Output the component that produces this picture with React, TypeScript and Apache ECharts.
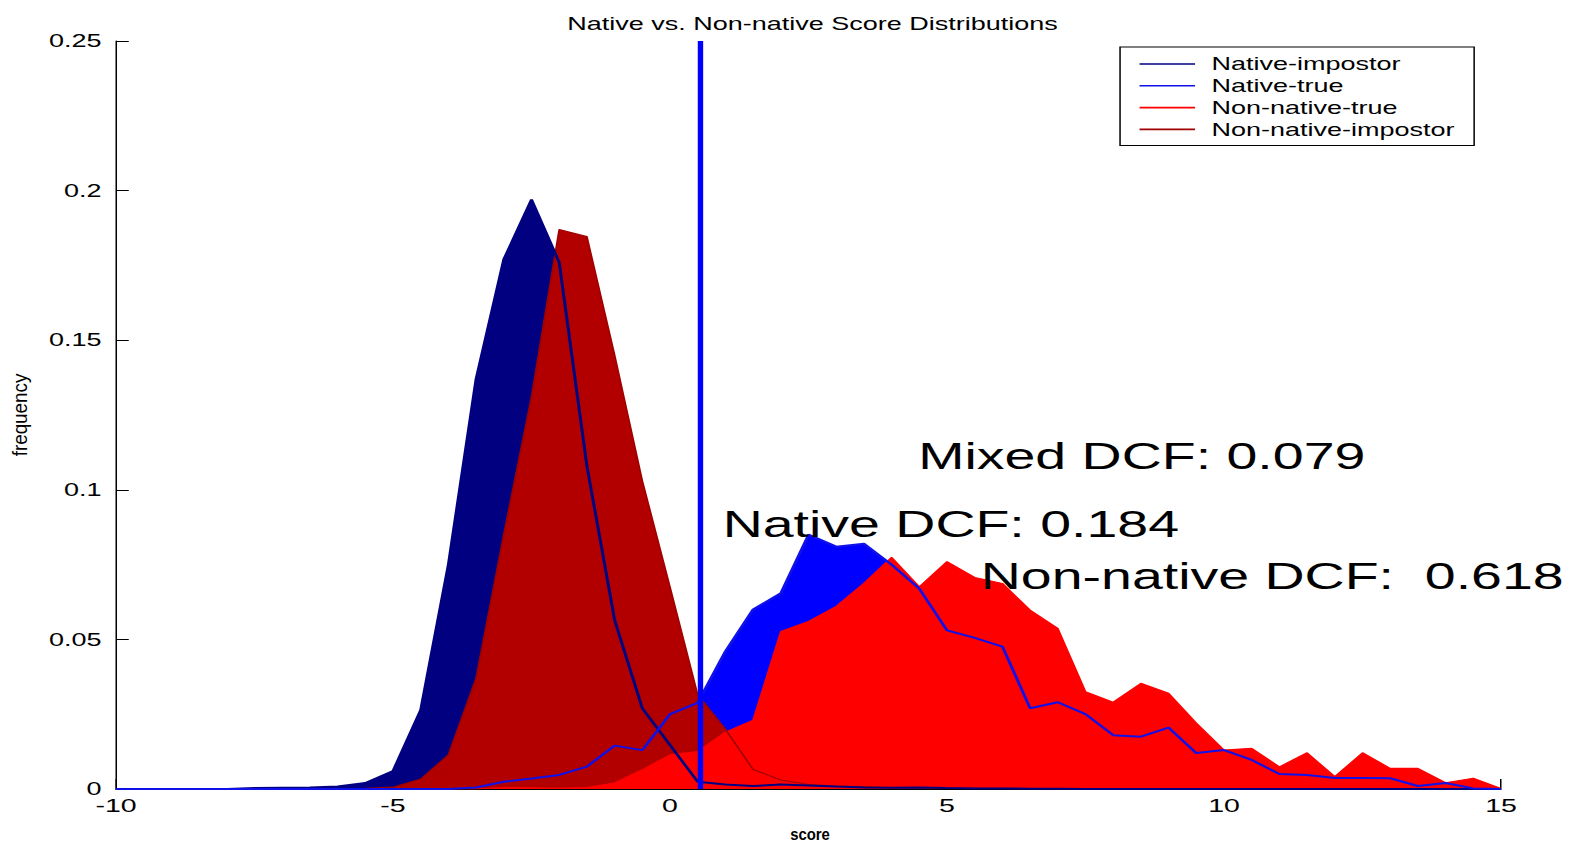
import React, { useEffect, useRef } from "react";
import * as echarts from "echarts";

// Page size and the horizontal stretch applied to the whole figure
const PAGE_W = 1578;
const PAGE_H = 843;
const STRETCH_X = 1.5;
const CHART_W = PAGE_W / STRETCH_X;

const FONT = '"Liberation Sans", Arial, Helvetica, sans-serif';

// Score histogram bins (bin centres)
const scoreBins = [
  -10, -9.5, -9, -8.5, -8, -7.5, -7, -6.5, -6, -5.5,
  -5, -4.5, -4, -3.5, -3, -2.5, -2, -1.5, -1, -0.5,
  0, 0.5, 1, 1.5, 2, 2.5, 3, 3.5, 4, 4.5,
  5, 5.5, 6, 6.5, 7, 7.5, 8, 8.5, 9, 9.5,
  10, 10.5, 11, 11.5, 12, 12.5, 13, 13.5, 14, 14.5,
  15,
];

// Relative frequency per bin
const nativeImpostor = [
  0, 0, 0, 0, 0, 0.0003, 0.0004, 0.0005, 0.0008, 0.002,
  0.006, 0.0264, 0.075, 0.137, 0.177, 0.197, 0.176, 0.108, 0.0565, 0.027,
  0.0147, 0.0024, 0.0015, 0.001, 0.0015, 0.0012, 0.0008, 0.0005, 0.0004, 0.0005,
  0.0003, 0.0002, 0.0002, 0.0001, 0.0001, 0, 0, 0, 0, 0,
  0, 0, 0, 0, 0, 0, 0, 0, 0, 0,
  0,
];

const nativeTrue = [
  0, 0, 0, 0, 0, 0, 0, 0, 0, 0,
  0, 0, 0, 0.0005, 0.0024, 0.0035, 0.0047, 0.0075, 0.0145, 0.013,
  0.025, 0.0288, 0.046, 0.06, 0.0654, 0.085, 0.081, 0.082, 0.075, 0.067,
  0.053, 0.0505, 0.0476, 0.027, 0.029, 0.025, 0.018, 0.0175, 0.0205, 0.012,
  0.013, 0.0097, 0.005, 0.0047, 0.0037, 0.0037, 0.0036, 0.001, 0.002, 0.0002,
  0,
];

const nonNativeTrue = [
  0, 0, 0, 0, 0, 0, 0, 0, 0, 0,
  0, 0, 0, 0, 0.0005, 0.0004, 0.0002, 0.0005, 0.002, 0.0064,
  0.0114, 0.0125, 0.019, 0.023, 0.0526, 0.056, 0.061, 0.0687, 0.0774, 0.0676,
  0.076, 0.0707, 0.0687, 0.0598, 0.0537, 0.0325, 0.029, 0.0353, 0.032, 0.022,
  0.013, 0.0136, 0.0074, 0.0121, 0.0041, 0.0121, 0.0069, 0.0069, 0.0021, 0.0036,
  0.0002,
];

const nonNativeImpostor = [
  0, 0, 0, 0, 0, 0, 0, 0, 0, 0.0002,
  0.0006, 0.0033, 0.0114, 0.037, 0.085, 0.131, 0.187, 0.1846, 0.145, 0.103,
  0.0675, 0.0315, 0.02, 0.0065, 0.003, 0.0015, 0.001, 0.0008, 0.0005, 0.0004,
  0.0003, 0.0002, 0.0002, 0, 0, 0, 0, 0, 0, 0,
  0, 0, 0, 0, 0, 0, 0, 0, 0, 0,
  0,
];

// Decision threshold on the score axis
const thresholdScore = 0.55;

// Axis ranges and tick steps
const xRange = [-10, 15];
const xStep = 5;
const yRange = [0, 0.25];
const yStep = 0.05;

const legendOrder = [
  "Native-impostor",
  "Native-true",
  "Non-native-true",
  "Non-native-impostor",
];

// DCF annotations, anchored at score / frequency coordinates
const dcfNotes = [
  { text: "Mixed DCF: 0.079", at: [4.48, 0.1113] },
  { text: "Native DCF: 0.184", at: [0.95, 0.0886] },
  { text: "Non-native DCF:  0.618", at: [5.61, 0.0713] },
];

const colors = {
  navy: "#000080",
  blue: "#0000ff",
  red: "#ff0000",
  darkRed: "#b20000",
};

const toPairs = (ys: number[]) => scoreBins.map((x, i) => [x, ys[i]]);

function fillSeries(name: string, ys: number[], color: string) {
  return {
    name,
    type: "line",
    data: toPairs(ys),
    symbol: "none",
    silent: true,
    z: 2,
    lineStyle: { width: 0, color },
    itemStyle: { color },
    areaStyle: { color, opacity: 1 },
  };
}

function lineSeries(name: string, ys: number[], color: string, width: number) {
  return {
    name,
    type: "line",
    data: toPairs(ys),
    symbol: "none",
    silent: true,
    z: 3,
    lineStyle: { width, color },
    itemStyle: { color },
  };
}

export default function App() {
  const ref = useRef<HTMLDivElement>(null);

  useEffect(() => {
    if (!ref.current) return;
    const chart = echarts.init(ref.current, undefined, {
      renderer: "svg",
      width: CHART_W,
      height: PAGE_H,
    });

    const option: any = {
      animation: false,
      backgroundColor: "#ffffff",
      textStyle: { fontFamily: FONT },
      title: {
        text: "Native vs. Non-native Score Distributions",
        left: 536.7,
        top: 10,
        textAlign: "center",
        textStyle: {
          fontFamily: FONT,
          fontSize: 18,
          fontWeight: "normal",
          color: "#000",
        },
      },
      legend: {
        data: legendOrder,
        orient: "vertical",
        left: 746.7,
        top: 47,
        padding: [7, 13, 6, 13],
        itemGap: 1.8,
        itemWidth: 37,
        itemHeight: 1.6,
        icon: "rect",
        borderColor: "#000",
        borderWidth: 1,
        borderRadius: 0,
        backgroundColor: "#fff",
        selectedMode: false,
        textStyle: {
          fontFamily: FONT,
          fontSize: 18,
          lineHeight: 20,
          color: "#000",
          padding: [0, 0, 0, 6],
        },
      },
      grid: {
        left: 116 / STRETCH_X,
        right: (PAGE_W - 1501) / STRETCH_X,
        top: 41,
        bottom: PAGE_H - 789,
      },
      xAxis: {
        type: "value",
        min: xRange[0],
        max: xRange[1],
        interval: xStep,
        axisLine: { onZero: false, lineStyle: { color: "#000", width: 1 } },
        axisTick: { inside: true, length: 10, lineStyle: { color: "#000" } },
        axisLabel: { fontFamily: FONT, fontSize: 19, color: "#000", margin: 7 },
        splitLine: { show: false },
      },
      yAxis: {
        type: "value",
        min: yRange[0],
        max: yRange[1],
        interval: yStep,
        axisLine: { show: true, onZero: false, lineStyle: { color: "#000", width: 1 } },
        axisTick: { show: true, inside: true, length: 8.5, lineStyle: { color: "#000" } },
        axisLabel: { fontFamily: FONT, fontSize: 18, color: "#000", margin: 9.6 },
        splitLine: { show: false },
      },
      series: [
        fillSeries("Native-impostor area", nativeImpostor, colors.navy),
        fillSeries("Native-true area", nativeTrue, colors.blue),
        fillSeries("Non-native-impostor area", nonNativeImpostor, colors.darkRed),
        fillSeries("Non-native-true area", nonNativeTrue, colors.red),
        lineSeries("Non-native-true", nonNativeTrue, colors.red, 1.2),
        lineSeries("Non-native-impostor", nonNativeImpostor, "#a00000", 1.2),
        lineSeries("Native-impostor", nativeImpostor, colors.navy, 2),
        lineSeries("Native-true", nativeTrue, "#1010e8", 2),
        {
          name: "Threshold",
          type: "line",
          data: [
            [thresholdScore, yRange[0]],
            [thresholdScore, yRange[1]],
          ],
          symbol: "none",
          silent: true,
          z: 4,
          lineStyle: { width: 3.6, color: colors.blue },
        },
      ],
    };

    chart.setOption(option);

    // Annotations placed in data space, plus the axis titles
    const notes = dcfNotes.map((n) => {
      const [px, py] = chart.convertToPixel({ gridIndex: 0 }, n.at) as number[];
      return {
        type: "text",
        x: px,
        y: py,
        z: 10,
        style: {
          text: n.text,
          fontFamily: FONT,
          fontSize: 37,
          fill: "#000",
          align: "left",
          verticalAlign: "middle",
        },
      };
    });

    chart.setOption({
      graphic: [
        ...notes,
        {
          type: "text",
          x: 540,
          y: 834,
          scaleX: 0.62,
          z: 10,
          style: {
            text: "score",
            fontFamily: FONT,
            fontSize: 16,
            fontWeight: "bold",
            fill: "#000",
            align: "center",
            verticalAlign: "middle",
          },
        },
        {
          type: "text",
          x: 13.3,
          y: 415,
          rotation: Math.PI / 2,
          scaleX: 1.45,
          z: 10,
          style: {
            text: "frequency",
            fontFamily: FONT,
            fontSize: 13,
            fill: "#000",
            align: "center",
            verticalAlign: "middle",
          },
        },
      ],
    });

    return () => chart.dispose();
  }, []);

  return (
    <div
      style={{
        position: "fixed",
        left: 0,
        top: 0,
        width: PAGE_W,
        height: PAGE_H,
        overflow: "hidden",
        background: "#fff",
      }}
    >
      <div
        ref={ref}
        style={{
          width: CHART_W,
          height: PAGE_H,
          transform: `scaleX(${STRETCH_X})`,
          transformOrigin: "0 0",
        }}
      />
    </div>
  );
}
